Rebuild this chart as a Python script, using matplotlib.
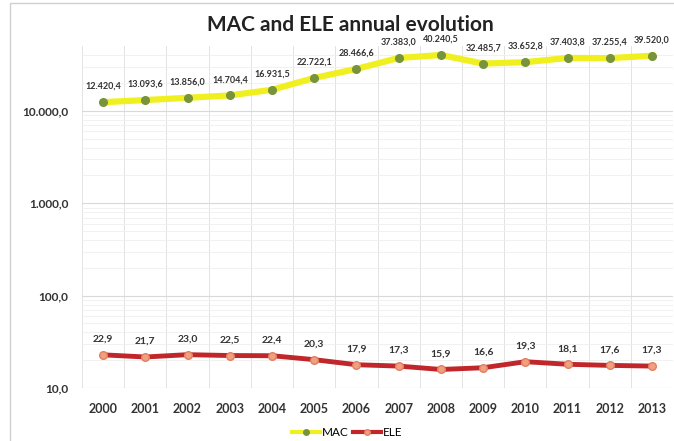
import numpy as np
import matplotlib
matplotlib.use("Agg")
import matplotlib.pyplot as plt
from matplotlib.lines import Line2D
from matplotlib.ticker import FixedLocator, NullFormatter, FuncFormatter

plt.rcParams['font.family'] = ['Lato', 'DejaVu Sans']

years = ['2000', '2001', '2002', '2003', '2004', '2005', '2006',
         '2007', '2008', '2009', '2010', '2011', '2012', '2013']
mac = [12420.4, 13093.6, 13856.0, 14704.4, 16931.5, 22722.1, 28466.6,
       37383.0, 40240.5, 32485.7, 33652.8, 37403.8, 37255.4, 39520.0]
ele = [22.9, 21.7, 23.0, 22.5, 22.4, 20.3, 17.9,
       17.3, 15.9, 16.6, 19.3, 18.1, 17.6, 17.3]


def euro(v, pos=None):
    s = f"{v:,.1f}"
    return s.replace(',', 'X').replace('.', ',').replace('X', '.')


fig = plt.figure(figsize=(6.74, 4.41), dpi=100)
ax = fig.add_axes([0.1217, 0.12, 0.877, 0.775])

x = np.arange(len(years))
ax.plot(x, mac, color='#F0F020', lw=4.5, zorder=3,
        marker='o', ms=5.5, mfc='#77933C', mec='#77933C')
ax.plot(x, ele, color='#C0262A', lw=3.5, zorder=3,
        marker='o', ms=5.5, mfc='#F0A080', mec='#E08060')

for xi, v in zip(x, mac):
    ax.annotate(euro(v), (xi, v), xytext=(0, 8), textcoords='offset points',
                ha='center', va='bottom', fontsize=6.5, fontweight='bold',
                color='#333333')
for xi, v in zip(x, ele):
    ax.annotate(euro(v), (xi, v), xytext=(0, 8), textcoords='offset points',
                ha='center', va='bottom', fontsize=7.5, fontweight='bold',
                color='#333333')

ax.set_yscale('log')
ax.set_ylim(10, 50000)
ax.set_xlim(-0.5, len(years) - 0.5)
ax.yaxis.set_major_locator(FixedLocator([10, 100, 1000, 10000]))
ax.yaxis.set_major_formatter(FuncFormatter(euro))
minor = [m * 10 ** e for e in range(1, 5) for m in range(2, 10) if m * 10 ** e < 50000]
ax.yaxis.set_minor_locator(FixedLocator(minor))
ax.yaxis.set_minor_formatter(NullFormatter())

ax.set_xticks(x)
ax.set_xticklabels(years)
ax.set_xticks(np.arange(-0.5, len(years)), minor=True)

ax.grid(which='major', axis='y', color='#D9D9D9', lw=0.8)
ax.grid(which='minor', axis='y', color='#EFEFEF', lw=0.6)
ax.grid(which='minor', axis='x', color='#E3E3E3', lw=0.7)
ax.set_axisbelow(True)

for sp in ax.spines.values():
    sp.set_visible(False)
ax.tick_params(which='both', length=0)
ax.tick_params(axis='y', pad=10, labelsize=8.5, labelcolor='#333333')
ax.tick_params(axis='x', pad=11, labelsize=9, labelcolor='#333333')
for lab in ax.get_xticklabels() + ax.get_yticklabels():
    lab.set_fontweight('bold')

fig.text(0.52, 0.943, 'MAC and ELE annual evolution', ha='center', va='center',
         fontsize=15, fontweight='bold', color='#222222')

handles = [
    Line2D([], [], color='#F0F020', lw=3, marker='o', ms=4,
           mfc='#77933C', mec='#77933C'),
    Line2D([], [], color='#C0262A', lw=3, marker='o', ms=4,
           mfc='#F0A080', mec='#E08060'),
]
fig.legend(handles, ['MAC', 'ELE'], loc='center', bbox_to_anchor=(0.515, 0.02),
           ncol=2, frameon=False, fontsize=8.5, handlelength=2.4,
           columnspacing=0.3, handletextpad=0.2)

# chart area border
fig.add_artist(plt.Rectangle((0.015, -0.01), 0.99, 1.003, transform=fig.transFigure,
                             fill=False, ec='#D0D0D0', lw=1))

fig.savefig('out.png', dpi=100)
